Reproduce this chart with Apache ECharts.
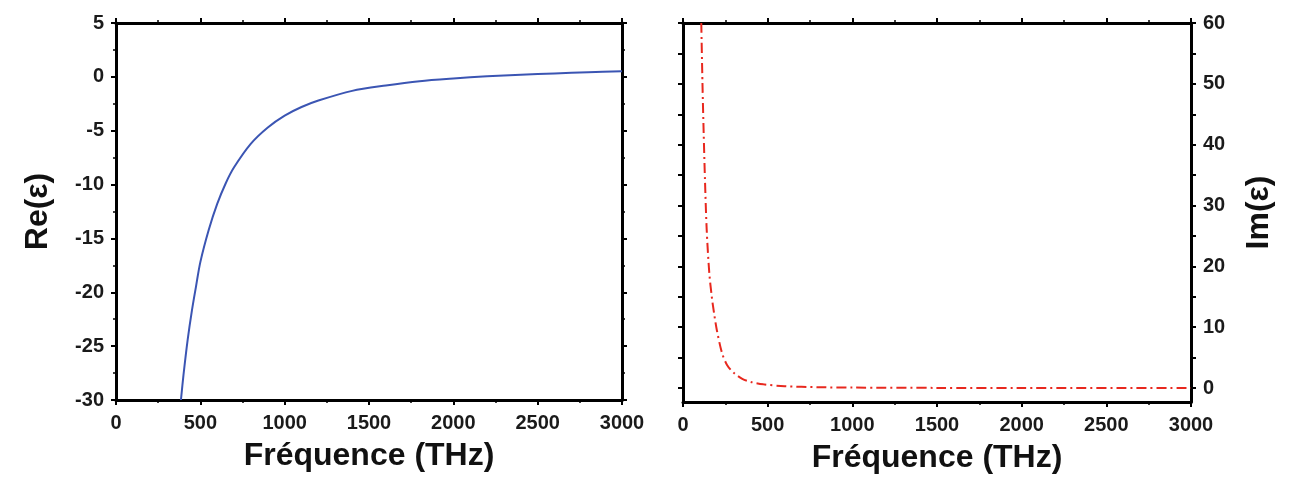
<!DOCTYPE html>
<html>
<head>
<meta charset="utf-8">
<script src="https://cdn.jsdelivr.net/npm/echarts@6/dist/echarts.min.js"></script>
<style>
  html, body { margin: 0; padding: 0; background: #fff; }
  #chart { width: 1291px; height: 481px; }
</style>
</head>
<body>
<div id="chart"></div>
<script>
// data
const freqRe = [385, 400, 425, 450, 475, 500, 550, 600, 650, 700, 800, 900, 1000, 1100, 1200, 1400, 1600, 1800, 2000, 2200, 2400, 2600, 2800, 3000]
const reEps = [-30, -27.7, -24.4, -21.7, -19.4, -17.2, -14.2, -11.8, -9.9, -8.4, -6.2, -4.7, -3.6, -2.8, -2.2, -1.3, -0.8, -0.4, -0.15, 0.05, 0.2, 0.32, 0.42, 0.52]

const freqIm = [108, 115, 122, 130, 140, 155, 170, 185, 200, 230, 260, 300, 350, 400, 475, 600, 800, 1000, 1500, 2000, 3000]
const imEps = [60, 50, 42, 34, 26, 19, 15, 12, 9.5, 5.8, 3.8, 2.5, 1.5, 1.0, 0.6, 0.3, 0.13, 0.07, 0.02, 0.01, 0]

const xMax = 3000
const imTicks = [0, 5, 10, 15, 20, 25, 30, 35, 40, 45, 50, 55, 60]
const imLabels = [0, 10, 20, 30, 40, 50, 60]

const zip = (a, b) => a.map((v, i) => [v, b[i]])

const chart = echarts.init(document.getElementById('chart'))

const labelStyle = {
    color: '#1a1a1a',
    fontSize: 20,
    fontWeight: 'bold',
    fontFamily: 'Liberation Sans, Arial, sans-serif',
    formatter: (v) => String(v),
}
const nameStyle = {
    color: '#111',
    fontSize: 32,
    fontWeight: 'bold',
    fontFamily: 'Liberation Sans, Arial, sans-serif',
}
const axisLine = { show: true, onZero: false, lineStyle: { color: '#000', width: 3 } }
const tick = { show: true, length: 5, lineStyle: { color: '#000', width: 2 } }
const minor = { show: true, splitNumber: 2, length: 3, lineStyle: { color: '#000', width: 1.5 } }

// x axes: bottom with labels, top mirrored
const xAxisFor = (grid, top) => ({
    type: 'value',
    gridIndex: grid,
    position: top ? 'top' : 'bottom',
    min: 0,
    max: xMax,
    interval: 500,
    axisLine: axisLine,
    axisTick: tick,
    minorTick: minor,
    splitLine: { show: false },
    axisLabel: top ? { show: false } : Object.assign({ margin: 13 }, labelStyle),
    name: top ? '' : 'Fréquence (THz)',
    nameLocation: 'middle',
    nameGap: 40,
    nameTextStyle: nameStyle,
})

const option = {
    animation: false,
    backgroundColor: '#fff',
    grid: [
        { left: 116, top: 23, width: 506, height: 377 },
        { left: 683, top: 23, width: 508, height: 379 },
    ],
    xAxis: [xAxisFor(0, false), xAxisFor(0, true), xAxisFor(1, false), xAxisFor(1, true)],
    yAxis: [
        {
            type: 'value',
            gridIndex: 0,
            position: 'left',
            min: -30,
            max: 5,
            interval: 5,
            axisLine: axisLine,
            axisTick: tick,
            minorTick: minor,
            splitLine: { show: false },
            axisLabel: Object.assign({ margin: 12 }, labelStyle),
            name: 'Re(ε)',
            nameLocation: 'middle',
            nameRotate: 90,
            nameGap: 62,
            nameTextStyle: nameStyle,
        },
        {
            type: 'value',
            gridIndex: 0,
            position: 'right',
            min: -30,
            max: 5,
            interval: 5,
            axisLine: axisLine,
            axisTick: tick,
            minorTick: minor,
            splitLine: { show: false },
            axisLabel: { show: false },
        },
        {
            type: 'value',
            gridIndex: 1,
            position: 'right',
            min: -2.3,
            max: 60,
            axisLine: axisLine,
            axisTick: Object.assign({ customValues: imTicks }, tick),
            splitLine: { show: false },
            axisLabel: Object.assign({ margin: 12, customValues: imLabels }, labelStyle),
            name: 'Im(ε)',
            nameLocation: 'middle',
            nameRotate: 90,
            nameGap: 52,
            nameTextStyle: nameStyle,
        },
        {
            type: 'value',
            gridIndex: 1,
            position: 'left',
            min: -2.3,
            max: 60,
            axisLine: axisLine,
            axisTick: Object.assign({ customValues: imTicks }, tick),
            splitLine: { show: false },
            axisLabel: { show: false },
        },
    ],
    series: [
        {
            type: 'line',
            xAxisIndex: 0,
            yAxisIndex: 0,
            data: zip(freqRe, reEps),
            smooth: 0.3,
            showSymbol: false,
            lineStyle: { color: '#3b55b3', width: 2 },
        },
        {
            type: 'line',
            xAxisIndex: 2,
            yAxisIndex: 2,
            data: zip(freqIm, imEps),
            smooth: 0.3,
            showSymbol: false,
            lineStyle: { color: '#e8281e', width: 2, type: [10, 4, 2, 4] },
        },
    ],
}
chart.setOption(option)
</script>
</body>
</html>
